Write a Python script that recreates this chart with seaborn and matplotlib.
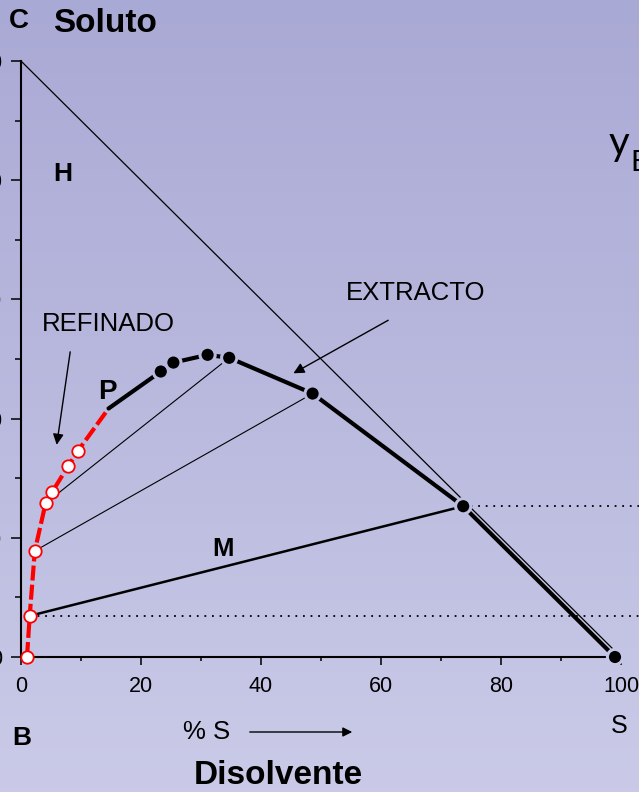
import numpy as np
import matplotlib
matplotlib.use("Agg")
import matplotlib.pyplot as plt
from matplotlib.colors import LinearSegmentedColormap, to_rgb
import seaborn as sns

# Liquid-liquid equilibrium (solute C vs. solvent S, weight %)
raff_x = [1.0, 1.45, 2.3, 4.1, 5.2, 7.9, 9.5]
raff_y = [0.0, 6.9, 17.8, 25.8, 27.7, 32.1, 34.6]
plait_x = [14.6]
plait_y = [41.7]
ext_x = [23.3, 25.4, 31.1, 34.7, 48.6, 73.7, 99.0]
ext_y = [47.9, 49.4, 50.7, 50.2, 44.2, 25.3, 0.0]

# tie lines as (raffinate index, extract index)
tie_thin = [(3, 3), (2, 4)]
tie_mix = (1, 5)

x_major = [0, 20, 40, 60, 80, 100]
x_minor = [10, 30, 50, 70, 90]
y_major = [0, 20, 40, 60, 80, 100]
y_minor = [10, 30, 50, 70, 90]

W, H, DPI = 639, 792, 100
TOP_BG = "#a9a9d5"
BOT_BG = "#cacae8"

sns.set_theme(style="ticks")
plt.rcParams["font.family"] = ["Liberation Sans", "DejaVu Sans"]
plt.rcParams.update({"text.color": "black", "axes.labelcolor": "black",
                     "xtick.color": "black", "ytick.color": "black"})

fig = plt.figure(figsize=(W / DPI, H / DPI), dpi=DPI)


def fpos(px, py):
    """pixel position -> figure fraction"""
    return px / W, 1 - py / H


# vertical gradient background
bg = fig.add_axes([0, 0, 1, 1], zorder=-10)
grad = np.linspace(0, 1, 256).reshape(-1, 1)
cmap = LinearSegmentedColormap.from_list("bg", [TOP_BG, BOT_BG])
bg.imshow(grad, aspect="auto", cmap=cmap, extent=[0, 1, 0, 1], origin="upper")
bg.axis("off")

ax_l, ax_b, ax_w, ax_h = 21 / W, (H - 657) / H, 600 / W, 596 / H
ax = fig.add_axes([ax_l, ax_b, ax_w, ax_h])
ax.patch.set_alpha(0)
ax.set_xlim(0, 100)
ax.set_ylim(0, 100)


def bg_at(yval):
    """background colour behind a data height"""
    fy = 1 - (ax_b + ax_h * yval / 100)
    c0, c1 = np.array(to_rgb(TOP_BG)), np.array(to_rgb(BOT_BG))
    return tuple(c0 + (c1 - c0) * fy)


# S-C hypotenuse of the right triangle
ax.plot([0, 100], [100, 0], color="black", lw=0.9, zorder=2)

# tie lines
for ri, ei in tie_thin:
    ax.plot([raff_x[ri], ext_x[ei]], [raff_y[ri], ext_y[ei]], color="black", lw=0.8, zorder=2)
ri, ei = tie_mix
ax.plot([raff_x[ri], ext_x[ei]], [raff_y[ri], ext_y[ei]], color="black", lw=1.8, zorder=2)

# dotted guides at the ends of the mixing line
x_over = (W - W * ax_l) / (W * ax_w)
for xs, ys in [(ext_x[ei], ext_y[ei]), (raff_x[ri], raff_y[ri])]:
    ax.axhline(ys, xmin=xs / 100, xmax=x_over, color="black", lw=1.3,
               linestyle=(0, (1, 3.2)), clip_on=False, zorder=1)

# raffinate branch (red, dashed)
rx = raff_x + plait_x
ry = raff_y + plait_y
sns.lineplot(x=rx, y=ry, sort=False, estimator=None, color="red", lw=3.0,
             dashes=False, ax=ax, zorder=3, clip_on=False)
ax.lines[-1].set_linestyle((0, (3.6, 1.0)))

# extract branch (black, solid)
ex = plait_x + ext_x
ey = plait_y + ext_y
sns.lineplot(x=ex, y=ey, sort=False, estimator=None, color="black", lw=3.0,
             ax=ax, zorder=3, clip_on=False)

sns.scatterplot(x=ext_x, y=ext_y, color="black", s=120,
                edgecolor=[bg_at(v) for v in ext_y], linewidth=2.2,
                ax=ax, zorder=5, clip_on=False)
sns.scatterplot(x=raff_x, y=raff_y, color="white", s=80, edgecolor="red",
                linewidth=1.3, ax=ax, zorder=5, clip_on=False)

# axes styling
for side in ["top", "right"]:
    ax.spines[side].set_visible(False)
for side in ["left", "bottom"]:
    ax.spines[side].set_linewidth(1.5)
    ax.spines[side].set_color("black")
    ax.spines[side].set_zorder(4)

ax.set_xticks(x_major)
ax.set_xticks(x_minor, minor=True)
ax.set_yticks(y_major)
ax.set_yticks(y_minor, minor=True)
ax.tick_params(axis="both", which="both", direction="out", color="black",
               width=1.1, labelsize=15.5, labelcolor="black")
ax.tick_params(axis="x", which="major", length=6, pad=7.5)
ax.tick_params(axis="x", which="minor", length=3)
ax.tick_params(axis="y", which="major", length=7.5, pad=6)
ax.tick_params(axis="y", which="minor", length=4.5)
ax.set_xlabel("")
ax.set_ylabel("")

# labels inside the diagram
ax.text(7.0, 81.0, "H", fontsize=19, fontweight="bold", ha="center", va="center")
ax.text(14.4, 44.5, "P", fontsize=20, fontweight="bold", ha="center", va="center")
ax.text(33.7, 18.1, "M", fontsize=18.5, fontweight="bold", ha="center", va="center")
ax.text(14.6, 55.9, "REFINADO", fontsize=18.5, ha="center", va="center")
ax.text(65.8, 61.0, "EXTRACTO", fontsize=18.5, ha="center", va="center")

ax.annotate("", xy=(5.95, 35.6), xytext=(8.2, 51.2),
            arrowprops=dict(arrowstyle="-|>", color="black", lw=1.0,
                            mutation_scale=16, shrinkA=0, shrinkB=0))
ax.annotate("", xy=(45.4, 47.6), xytext=(61.2, 56.5),
            arrowprops=dict(arrowstyle="-|>", color="black", lw=1.0,
                            mutation_scale=16, shrinkA=0, shrinkB=0))

# labels around the diagram
fig.text(*fpos(19.3, 21), "C", fontsize=20, fontweight="bold", ha="center", va="center")
fig.text(*fpos(105, 23), "Soluto", fontsize=24, fontweight="bold", ha="center", va="center")
fig.text(*fpos(21.8, 738), "B", fontsize=19, fontweight="bold", ha="center", va="center")
fig.text(*fpos(207, 732), "% S", fontsize=18.5, ha="center", va="center")
fig.text(*fpos(619, 726), "S", fontsize=18, ha="center", va="center")
fig.text(*fpos(278.5, 775), "Disolvente", fontsize=24, fontweight="bold",
         ha="center", va="center")
fig.text(*fpos(609, 155), "y", fontsize=29, family=["Lato", "DejaVu Sans"],
         ha="left", va="baseline")
fig.text(*fpos(630, 171), "E", fontsize=21, family=["Lato", "DejaVu Sans"],
         ha="left", va="baseline")

fig.add_artist(matplotlib.patches.FancyArrowPatch(
    fpos(247, 732), fpos(355, 732), transform=fig.transFigure,
    arrowstyle="-|>", mutation_scale=14, color="black", lw=1.0))

fig.savefig("out.png", dpi=DPI)
